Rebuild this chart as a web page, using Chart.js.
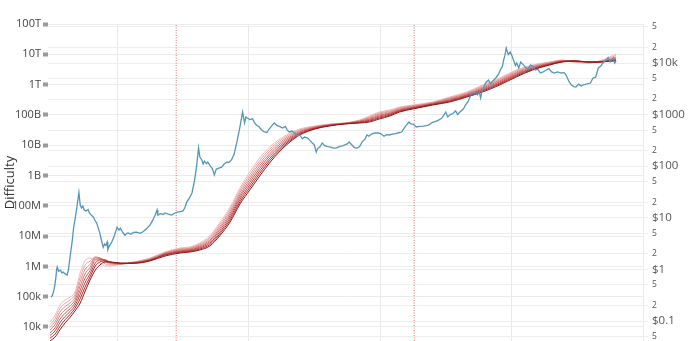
<!DOCTYPE html>
<html>
<head>
<meta charset="utf-8">
<script src="https://cdn.jsdelivr.net/npm/chart.js@4.4.1/dist/chart.umd.min.js"></script>
<style>
html,body{margin:0;padding:0;background:#fff;}
canvas{display:block;}
</style>
</head>
<body>
<canvas id="c" width="700" height="341"></canvas>
<script>
// ---- data ----
const xGridYears = [2012, 2014, 2016, 2018, 2020];
const halvingYears = [2012.9, 2016.52];

const leftTicks  = [1e4, 1e5, 1e6, 1e7, 1e8, 1e9, 1e10, 1e11, 1e12, 1e13, 1e14];
const leftLabels = ['10k', '100k', '1M', '10M', '100M', '1B', '10B', '100B', '1T', '10T', '100T'];

const rightTicks  = [0.05, 0.1, 0.2, 0.5, 1, 2, 5, 10, 20, 50, 100, 200, 500, 1000, 2000, 5000, 10000, 20000, 50000];
const rightLabels = ['5', '$0.1', '2', '5', '$1', '2', '5', '$10', '2', '5', '$100', '2', '5', '$1000', '2', '5', '$10k', '2', '5'];

const priceYears = [2011.00,2011.02,2011.04,2011.05,2011.07,2011.08,2011.09,2011.11,2011.14,2011.16,2011.18,2011.21,2011.24,2011.26,2011.29,2011.32,2011.34,2011.36,2011.39,2011.42,2011.44,2011.46,2011.48,2011.50,2011.53,2011.56,2011.58,2011.61,2011.64,2011.67,2011.69,2011.71,2011.74,2011.76,2011.79,2011.81,2011.83,2011.85,2011.86,2011.88,2011.92,2011.96,
2012.00,2012.03,2012.05,2012.08,2012.12,2012.15,2012.17,2012.21,2012.25,2012.30,2012.35,2012.39,2012.44,2012.50,2012.54,2012.58,2012.61,2012.62,2012.66,2012.70,2012.73,2012.78,2012.83,2012.88,2012.92,
2013.00,2013.03,2013.06,2013.10,2013.14,2013.18,2013.21,2013.24,2013.26,2013.29,2013.31,2013.33,2013.36,2013.38,2013.42,2013.45,2013.48,2013.51,2013.55,2013.59,2013.63,2013.67,2013.70,2013.74,2013.78,2013.82,2013.86,2013.91,2013.94,2013.96,2013.98,
2014.02,2014.06,2014.09,2014.12,2014.16,2014.20,2014.24,2014.28,2014.31,2014.35,2014.39,2014.43,2014.47,2014.52,2014.56,2014.59,2014.62,2014.66,2014.70,2014.74,2014.78,2014.82,2014.85,2014.90,2014.93,2014.97,
2015.00,2015.03,2015.05,2015.09,2015.12,2015.16,2015.20,2015.25,2015.29,2015.33,2015.38,2015.44,2015.50,2015.53,2015.57,2015.61,2015.65,2015.69,2015.73,2015.77,2015.80,2015.83,2015.87,2015.92,2015.98,
2016.02,2016.06,2016.10,2016.14,2016.19,2016.24,2016.28,2016.33,2016.38,2016.44,2016.47,2016.51,2016.55,2016.60,2016.66,2016.70,2016.74,2016.79,2016.84,2016.89,2016.94,
2017.00,2017.03,2017.07,2017.11,2017.15,2017.18,2017.20,2017.24,2017.27,2017.30,2017.34,2017.38,2017.41,2017.45,2017.48,2017.51,2017.53,2017.55,2017.58,2017.61,2017.65,2017.68,2017.71,2017.76,2017.80,2017.83,2017.86,2017.88,2017.90,2017.92,2017.95,2017.98,
2018.01,2018.03,2018.06,2018.08,2018.11,2018.14,2018.17,2018.21,2018.25,2018.29,2018.33,2018.36,2018.40,2018.44,2018.48,2018.53,2018.57,2018.61,2018.65,2018.70,2018.76,2018.80,2018.83,2018.87,2018.91,2018.95,2018.98,
2019.02,2019.06,2019.09,2019.14,2019.20,2019.24,2019.28,2019.32,2019.36,2019.39,2019.42,2019.44,2019.47,2019.50,2019.52,2019.55,2019.57,2019.59];
const priceUSD = [0.29,0.32,0.40,0.46,0.70,0.97,1.11,0.92,0.97,0.86,0.89,0.82,0.78,0.97,1.9,3.7,6.5,9.1,16.2,31,17.7,15.5,16.8,14.2,13.6,14.5,12.4,11.2,10.4,8.6,8.0,6.6,5.0,3.8,2.7,3.1,2.9,3.4,2.4,2.8,3.4,4.5,
6.6,5.8,6.3,5.4,4.6,5.0,5.1,4.8,5.2,5.3,5.0,5.3,6.0,7.2,8.8,11.3,14.2,11.3,12.0,11.6,12.4,11.8,11.3,12.4,12.9,
13.5,15.5,20.2,24,30.3,54,100,225,150,132,110,125,112,120,100,90,68,88,92,96,110,120,118,132,170,282,500,1122,687,900,860,
800,830,700,628,580,500,460,450,520,600,687,620,590,550,590,500,460,480,440,390,400,340,368,350,320,282,
260,188,220,240,282,250,240,235,225,225,240,250,270,294,260,230,225,240,300,330,403,380,420,440,440,
420,380,410,403,420,430,445,460,580,720,660,650,575,590,600,610,628,700,730,780,860,
1122,900,1000,1050,1180,1000,1073,1200,1300,1535,1800,2400,2600,2740,2400,2700,2100,2800,3430,4200,4690,3900,4400,5120,6000,7320,8500,11400,14000,19500,14500,16300,
13500,11400,9000,10000,8000,10460,9500,8360,7500,9150,8500,7320,7600,6400,6700,7320,7800,6700,6400,6700,6400,6500,5850,4500,3750,3500,3430,
3900,3600,3750,3900,4090,5120,5300,8000,8700,10000,11000,11400,12800,10460,11400,12500,10000,11000];

const ribbonYears = [2010.98,2011.06,2011.13,2011.21,2011.29,2011.36,2011.44,2011.51,2011.59,2011.67,2011.74,2011.82,2011.89,2012.05,2012.27,2012.50,2012.73,2012.96,2013.11,2013.26,2013.41,2013.56,2013.72,2013.87,2014.02,2014.17,2014.32,2014.48,2014.63,2014.78,2015.01,2015.23,2015.46,2015.69,2015.84,2015.99,2016.15,2016.30,2016.50,2016.80,2017.06,2017.32,2017.56,2017.82,2018.07,2018.32,2018.58,2018.77,2018.96,2019.18,2019.33,2019.49,2019.59];

const ribbon1 = [14600,24900,53000,77800,97700,143000,605000,1.51e6,1.89e6,1.63e6,1.29e6,1.03e6,1.03e6,1.18e6,1.42e6,1.89e6,2.99e6,4.05e6,4.37e6,5.92e6,1.01e7,2.70e7,9.12e7,3.86e8,1.31e9,3.78e9,8.73e9,1.60e10,2.53e10,3.43e10,4.31e10,5.01e10,5.41e10,6.79e10,9.20e10,1.25e11,1.45e11,1.82e11,2.12e11,2.67e11,3.90e11,5.70e11,9.70e11,1.65e12,3.03e12,4.44e12,5.57e12,6.49e12,5.36e12,5.16e12,6.01e12,8.15e12,1.02e13];
const ribbon2 = [11900,19600,40500,60700,78700,116000,437000,1.08e6,1.49e6,2.04e6,1.63e6,1.20e6,1.11e6,1.19e6,1.40e6,1.82e6,2.88e6,3.84e6,4.14e6,5.48e6,9.06e6,2.34e7,7.78e7,3.25e8,1.07e9,3.10e9,7.33e9,1.41e10,2.29e10,3.20e10,4.17e10,4.90e10,5.35e10,6.58e10,8.59e10,1.16e11,1.36e11,1.73e11,2.03e11,2.59e11,3.70e11,5.41e11,9.00e11,1.53e12,2.81e12,4.21e12,5.41e12,6.34e12,5.57e12,5.16e12,5.78e12,7.55e12,9.12e12];
const ribbon3 = [9680,15500,30900,47200,63200,94600,316000,769000,1.17e6,2.04e6,1.89e6,1.40e6,1.20e6,1.20e6,1.38e6,1.75e6,2.77e6,3.64e6,3.93e6,5.08e6,8.09e6,2.04e7,6.58e7,2.73e8,8.85e8,2.56e9,6.15e9,1.24e10,2.08e10,3.01e10,4.02e10,4.79e10,5.30e10,6.34e10,8.09e10,1.07e11,1.28e11,1.64e11,1.95e11,2.49e11,3.51e11,5.13e11,8.34e11,1.42e12,2.61e12,3.99e12,5.20e12,6.19e12,5.78e12,5.36e12,5.57e12,7.00e12,8.15e12];
const ribbon4 = [7870,12200,23600,36800,50900,76900,228000,550000,925000,1.89e6,1.89e6,1.51e6,1.29e6,1.21e6,1.36e6,1.69e6,2.67e6,3.45e6,3.72e6,4.71e6,7.26e6,1.77e7,5.60e7,2.29e8,7.26e8,2.10e9,5.16e9,1.09e10,1.88e10,2.81e10,3.90e10,4.68e10,5.24e10,6.15e10,7.55e10,9.93e10,1.19e11,1.55e11,1.87e11,2.42e11,3.32e11,4.85e11,7.73e11,1.32e12,2.42e12,3.78e12,5.05e12,6.05e12,6.01e12,5.45e12,5.57e12,6.64e12,7.55e12];
const ribbon5 = [6410,9600,17900,28600,41000,62700,164000,393000,728000,1.63e6,1.75e6,1.63e6,1.40e6,1.23e6,1.33e6,1.63e6,2.57e6,3.25e6,3.51e6,4.37e6,6.53e6,1.54e7,4.75e7,1.94e8,5.97e8,1.73e9,4.37e9,9.48e9,1.71e10,2.64e10,3.78e10,4.61e10,5.18e10,5.97e10,7.10e10,9.20e10,1.12e11,1.46e11,1.78e11,2.34e11,3.13e11,4.57e11,7.16e11,1.22e12,2.24e12,3.56e12,4.90e12,5.97e12,6.10e12,5.57e12,5.57e12,6.34e12,7.00e12];
const ribbon6 = [5210,7600,13700,22300,33000,50900,119000,280000,574000,1.29e6,1.63e6,1.63e6,1.40e6,1.25e6,1.31e6,1.63e6,2.47e6,3.08e6,3.32e6,4.05e6,5.87e6,1.33e7,4.05e7,1.63e8,4.90e8,1.42e9,3.66e9,8.34e9,1.55e10,2.47e10,3.66e10,4.51e10,5.12e10,5.78e10,6.64e10,8.53e10,1.05e11,1.39e11,1.70e11,2.27e11,2.96e11,4.34e11,6.64e11,1.13e12,2.07e12,3.37e12,4.75e12,5.83e12,6.10e12,5.57e12,5.57e12,6.15e12,6.64e12];
const ribbon7 = [4240,5900,10400,17400,26500,41500,85900,200000,452000,1.03e6,1.40e6,1.51e6,1.40e6,1.27e6,1.29e6,1.57e6,2.38e6,2.92e6,3.15e6,3.75e6,5.25e6,1.16e7,3.43e7,1.36e8,4.05e8,1.17e9,3.08e9,7.33e9,1.41e10,2.32e10,3.53e10,4.41e10,5.07e10,5.57e10,6.24e10,7.91e10,9.84e10,1.32e11,1.64e11,2.19e11,2.81e11,4.11e11,6.15e11,1.05e12,1.92e12,3.20e12,4.57e12,5.70e12,6.01e12,5.57e12,5.57e12,6.01e12,6.34e12];
const ribbon8 = [3450,4700,8000,13600,21400,33700,61900,143000,356000,760000,1.11e6,1.40e6,1.40e6,1.29e6,1.27e6,1.51e6,2.20e6,2.77e6,2.99e6,3.48e6,4.71e6,1.01e7,2.92e7,1.15e8,3.33e8,9.62e8,2.59e9,6.44e9,1.28e10,2.17e10,3.43e10,4.31e10,5.01e10,5.41e10,5.83e10,7.33e10,9.20e10,1.25e11,1.57e11,2.12e11,2.67e11,3.90e11,5.70e11,9.70e11,1.78e12,3.03e12,4.44e12,5.57e12,5.92e12,5.57e12,5.57e12,5.87e12,6.01e12];

// ---- styling ----
const ribbons = [ribbon1, ribbon2, ribbon3, ribbon4, ribbon5, ribbon6, ribbon7, ribbon8];
const ribbonColors = ['#f2b8b8','#eaa3a3','#e08b8b','#d47272','#c75a5a','#b84242','#a62b2b','#8e1616'];
const FONT = "'Open Sans', 'Noto Sans', sans-serif";
const LEFT_MIN = 3450, LEFT_MAX = 1e14;

const toPts = (xs, ys) => xs.map((x, i) => ({x: x, y: ys[i]}));

const datasets = [];
ribbons.forEach((r, i) => {
  datasets.push({
    data: toPts(ribbonYears, r), yAxisID: 'yL', borderColor: ribbonColors[i],
    borderWidth: 1, pointRadius: 0, cubicInterpolationMode: 'monotone', order: 10 - i
  });
});
datasets.push({
  data: toPts(priceYears, priceUSD), yAxisID: 'yR', borderColor: 'rgb(84,150,186)',
  borderWidth: 1.3, pointRadius: 0, tension: 0, order: 0
});
halvingYears.forEach(h => {
  datasets.push({
    data: [{x: h, y: LEFT_MIN}, {x: h, y: LEFT_MAX}], yAxisID: 'yL',
    borderColor: 'rgba(205,70,70,0.75)', borderWidth: 1, borderDash: [1, 1.5],
    pointRadius: 0, order: 20
  });
});

const zeroPad = s => { s.paddingTop = 0; s.paddingBottom = 0; s.paddingLeft = 0; s.paddingRight = 0; };

new Chart(document.getElementById('c'), {
  type: 'line',
  data: { datasets: datasets },
  options: {
    responsive: false,
    animation: false,
    devicePixelRatio: 1,
    layout: { padding: { top: 24, bottom: 0, left: 0, right: 0 } },
    plugins: { legend: { display: false }, tooltip: { enabled: false } },
    scales: {
      x: {
        type: 'linear', min: 2010.95, max: 2020.0,
        afterBuildTicks: s => { s.ticks = xGridYears.map(v => ({value: v})); },
        ticks: { display: false },
        grid: { color: '#e9e9e9', drawTicks: false },
        border: { display: false },
        afterFit: s => { s.height = 0; zeroPad(s); }
      },
      yL: {
        type: 'logarithmic', position: 'left', min: LEFT_MIN, max: LEFT_MAX,
        afterBuildTicks: s => { s.ticks = leftTicks.map(v => ({value: v})); },
        ticks: {
          autoSkip: false, padding: 2, color: '#444',
          font: { family: FONT, size: 11 },
          callback: (v, i) => leftLabels[i]
        },
        grid: { color: '#ebebeb', tickLength: 5, tickWidth: 4, tickColor: '#9a9a9a' },
        border: { display: false },
        title: { display: true, text: 'Difficulty', color: '#333', font: { family: FONT, size: 13 }, padding: { top: 2, bottom: 0 } },
        afterFit: s => { s.width = 48; zeroPad(s); }
      },
      yR: {
        type: 'logarithmic', position: 'right', min: 0.041, max: 57000,
        afterBuildTicks: s => { s.ticks = rightTicks.map(v => ({value: v})); },
        ticks: {
          autoSkip: false, padding: 4, color: '#555',
          font: ctx => ({ family: FONT, size: (rightLabels[ctx.index] || '').startsWith('$') ? 11.5 : 8.5 }),
          callback: (v, i) => rightLabels[i]
        },
        grid: { color: '#ededed', tickLength: 5, tickColor: '#ededed' },
        border: { display: false },
        afterFit: s => { s.width = 57; zeroPad(s); }
      }
    }
  }
});
</script>
</body>
</html>
